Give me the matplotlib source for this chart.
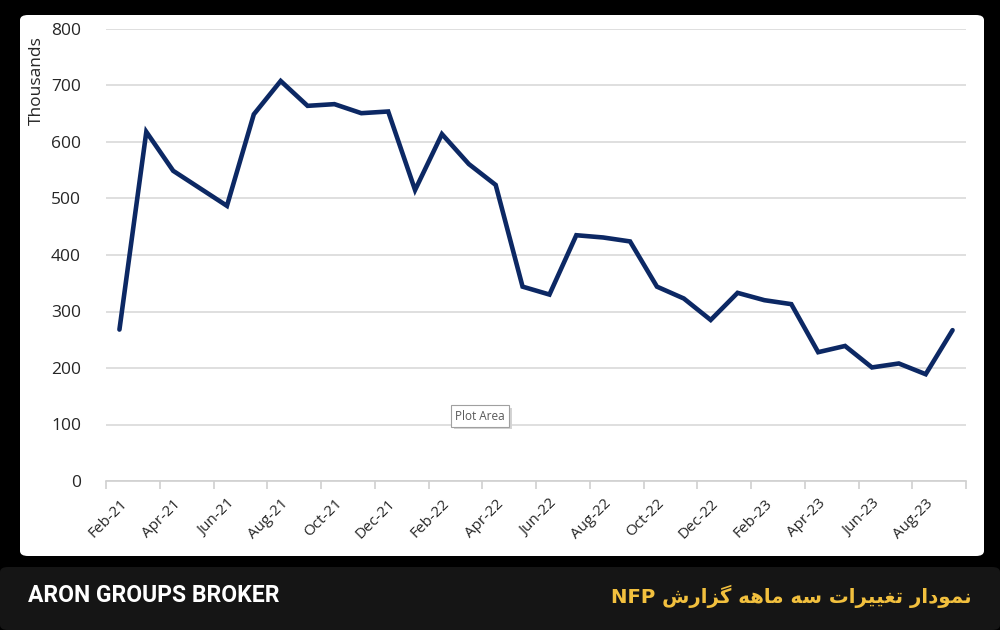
import matplotlib
matplotlib.use("Agg")
import matplotlib.pyplot as plt
from matplotlib.patches import FancyBboxPatch, Rectangle
import numpy as np

# monthly values, Feb-21 .. Sep-23 (thousands)
months = ["Feb-21", "Mar-21", "Apr-21", "May-21", "Jun-21", "Jul-21", "Aug-21", "Sep-21",
          "Oct-21", "Nov-21", "Dec-21", "Jan-22", "Feb-22", "Mar-22", "Apr-22", "May-22",
          "Jun-22", "Jul-22", "Aug-22", "Sep-22", "Oct-22", "Nov-22", "Dec-22", "Jan-23",
          "Feb-23", "Mar-23", "Apr-23", "May-23", "Jun-23", "Jul-23", "Aug-23", "Sep-23"]
nfp = [268, 618, 549, 518, 487, 649, 708, 664,
       667, 651, 654, 515, 614, 561, 524, 344,
       330, 435, 431, 424, 344, 323, 285, 333,
       320, 313, 228, 239, 201, 208, 189, 267]
y_ticks = [0, 100, 200, 300, 400, 500, 600, 700, 800]

footer_left = "ARON GROUPS BROKER"
footer_right = "نمودار تغییرات سه ماهه گزارش"
footer_tag = "NFP"

# simple arabic shaping (matplotlib has no complex text layout)
forms = {
    "ا": ("\uFE8D", "\uFE8E", None, None),
    "د": ("\uFEA9", "\uFEAA", None, None),
    "ر": ("\uFEAD", "\uFEAE", None, None),
    "ز": ("\uFEAF", "\uFEB0", None, None),
    "و": ("\uFEED", "\uFEEE", None, None),
    "ن": ("\uFEE5", "\uFEE6", "\uFEE7", "\uFEE8"),
    "م": ("\uFEE1", "\uFEE2", "\uFEE3", "\uFEE4"),
    "ت": ("\uFE95", "\uFE96", "\uFE97", "\uFE98"),
    "غ": ("\uFECD", "\uFECE", "\uFECF", "\uFED0"),
    "س": ("\uFEB1", "\uFEB2", "\uFEB3", "\uFEB4"),
    "ش": ("\uFEB5", "\uFEB6", "\uFEB7", "\uFEB8"),
    "ه": ("\uFEE9", "\uFEEA", "\uFEEB", "\uFEEC"),
    "ی": ("\uFBFC", "\uFBFD", "\uFBFE", "\uFBFF"),
    "گ": ("\uFB92", "\uFB93", "\uFB94", "\uFB95"),
}

def dual(ch):
    return ch in forms and forms[ch][2] is not None

def shape(text):
    out = []
    for i, ch in enumerate(text):
        if ch not in forms:
            out.append(ch)
            continue
        prev = text[i - 1] if i > 0 else " "
        nxt = text[i + 1] if i + 1 < len(text) else " "
        jp = dual(prev)
        jn = dual(ch) and nxt in forms
        iso, fin, ini, med = forms[ch]
        if jp and jn:
            out.append(med)
        elif jp:
            out.append(fin)
        elif jn:
            out.append(ini)
        else:
            out.append(iso)
    return "".join(out)[::-1]

fig = plt.figure(figsize=(10, 6.3), dpi=100)
fig.patch.set_facecolor("black")

W, H = 1000, 630
panel = FancyBboxPatch((20 / W, 1 - 556 / H), 964 / W, 541 / H,
                       boxstyle="round,pad=0,rounding_size=0.008",
                       transform=fig.transFigure, facecolor="white", edgecolor="none", zorder=-2)
fig.patches.append(panel)
footer = FancyBboxPatch((0, 0), 1, 63 / H,
                        boxstyle="round,pad=0,rounding_size=0.008",
                        transform=fig.transFigure, facecolor="#151515", edgecolor="none", zorder=-2)
fig.patches.append(footer)

ax = fig.add_axes([106 / W, 1 - 481 / H, 860 / W, 452 / H])
ax.set_facecolor("none")
x = np.arange(len(months))
ax.plot(x, nfp, color="#0c2864", lw=3.3, solid_joinstyle="miter", solid_capstyle="round", zorder=3)

ax.set_xlim(-0.5, len(months) - 0.5)
ax.set_ylim(0, 800)
ax.set_yticks(y_ticks)
ax.yaxis.grid(True, color="#d9d9d9", lw=1.2)
ax.set_axisbelow(True)
for s in ["left", "right", "top"]:
    ax.spines[s].set_visible(False)
ax.spines["bottom"].set_color("#d0d0d0")
ax.spines["bottom"].set_linewidth(1.2)

ax.set_xticks(np.arange(-0.5, len(months), 2), minor=True)
ax.set_xticks(x[::2])
ax.set_xticklabels(months[::2], rotation=45, ha="right", rotation_mode="anchor",
                   fontsize=11, color="#262626", fontfamily="Open Sans")
ax.tick_params(axis="x", which="major", length=0, pad=11)
ax.tick_params(axis="x", which="minor", length=6, color="#d0d0d0", width=1.2)
ax.tick_params(axis="y", length=0, pad=18, labelsize=12.5, labelcolor="#262626")
for lbl in ax.get_yticklabels():
    lbl.set_fontfamily("Open Sans")

fig.text(37 / W, 1 - 81 / H, "Thousands", rotation=90, ha="center", va="center",
         fontsize=12.5, color="#262626", fontfamily="Open Sans")

# little "Plot Area" tooltip with a soft shadow
shadow = Rectangle((454 / W, 1 - 429 / H), 58 / W, 21 / H, transform=fig.transFigure,
                   facecolor="#d4d4d4", edgecolor="none", zorder=4)
ax.add_patch(shadow)
tip_x, tip_y = (480 - 106) / 860, (481 - 416) / 452
ax.text(tip_x, tip_y, "Plot Area", transform=ax.transAxes, ha="center", va="center",
        fontsize=8.5, color="#595959", fontfamily="Open Sans", zorder=5,
        bbox=dict(boxstyle="square,pad=0.35", facecolor="white", edgecolor="#a0a0a0", lw=0.8))

fig.text(28 / W, 1 - 596 / H, footer_left, ha="left", va="center", fontsize=16.5,
         fontweight="bold", color="white", fontfamily="Roboto")
fig.text(972 / W, 1 - 596 / H, footer_tag + " " + shape(footer_right), ha="right", va="center",
         fontsize=14.2, fontweight="bold", color="#f2c03e", fontfamily="DejaVu Sans")

fig.savefig("out.png", dpi=100, facecolor=fig.get_facecolor())
